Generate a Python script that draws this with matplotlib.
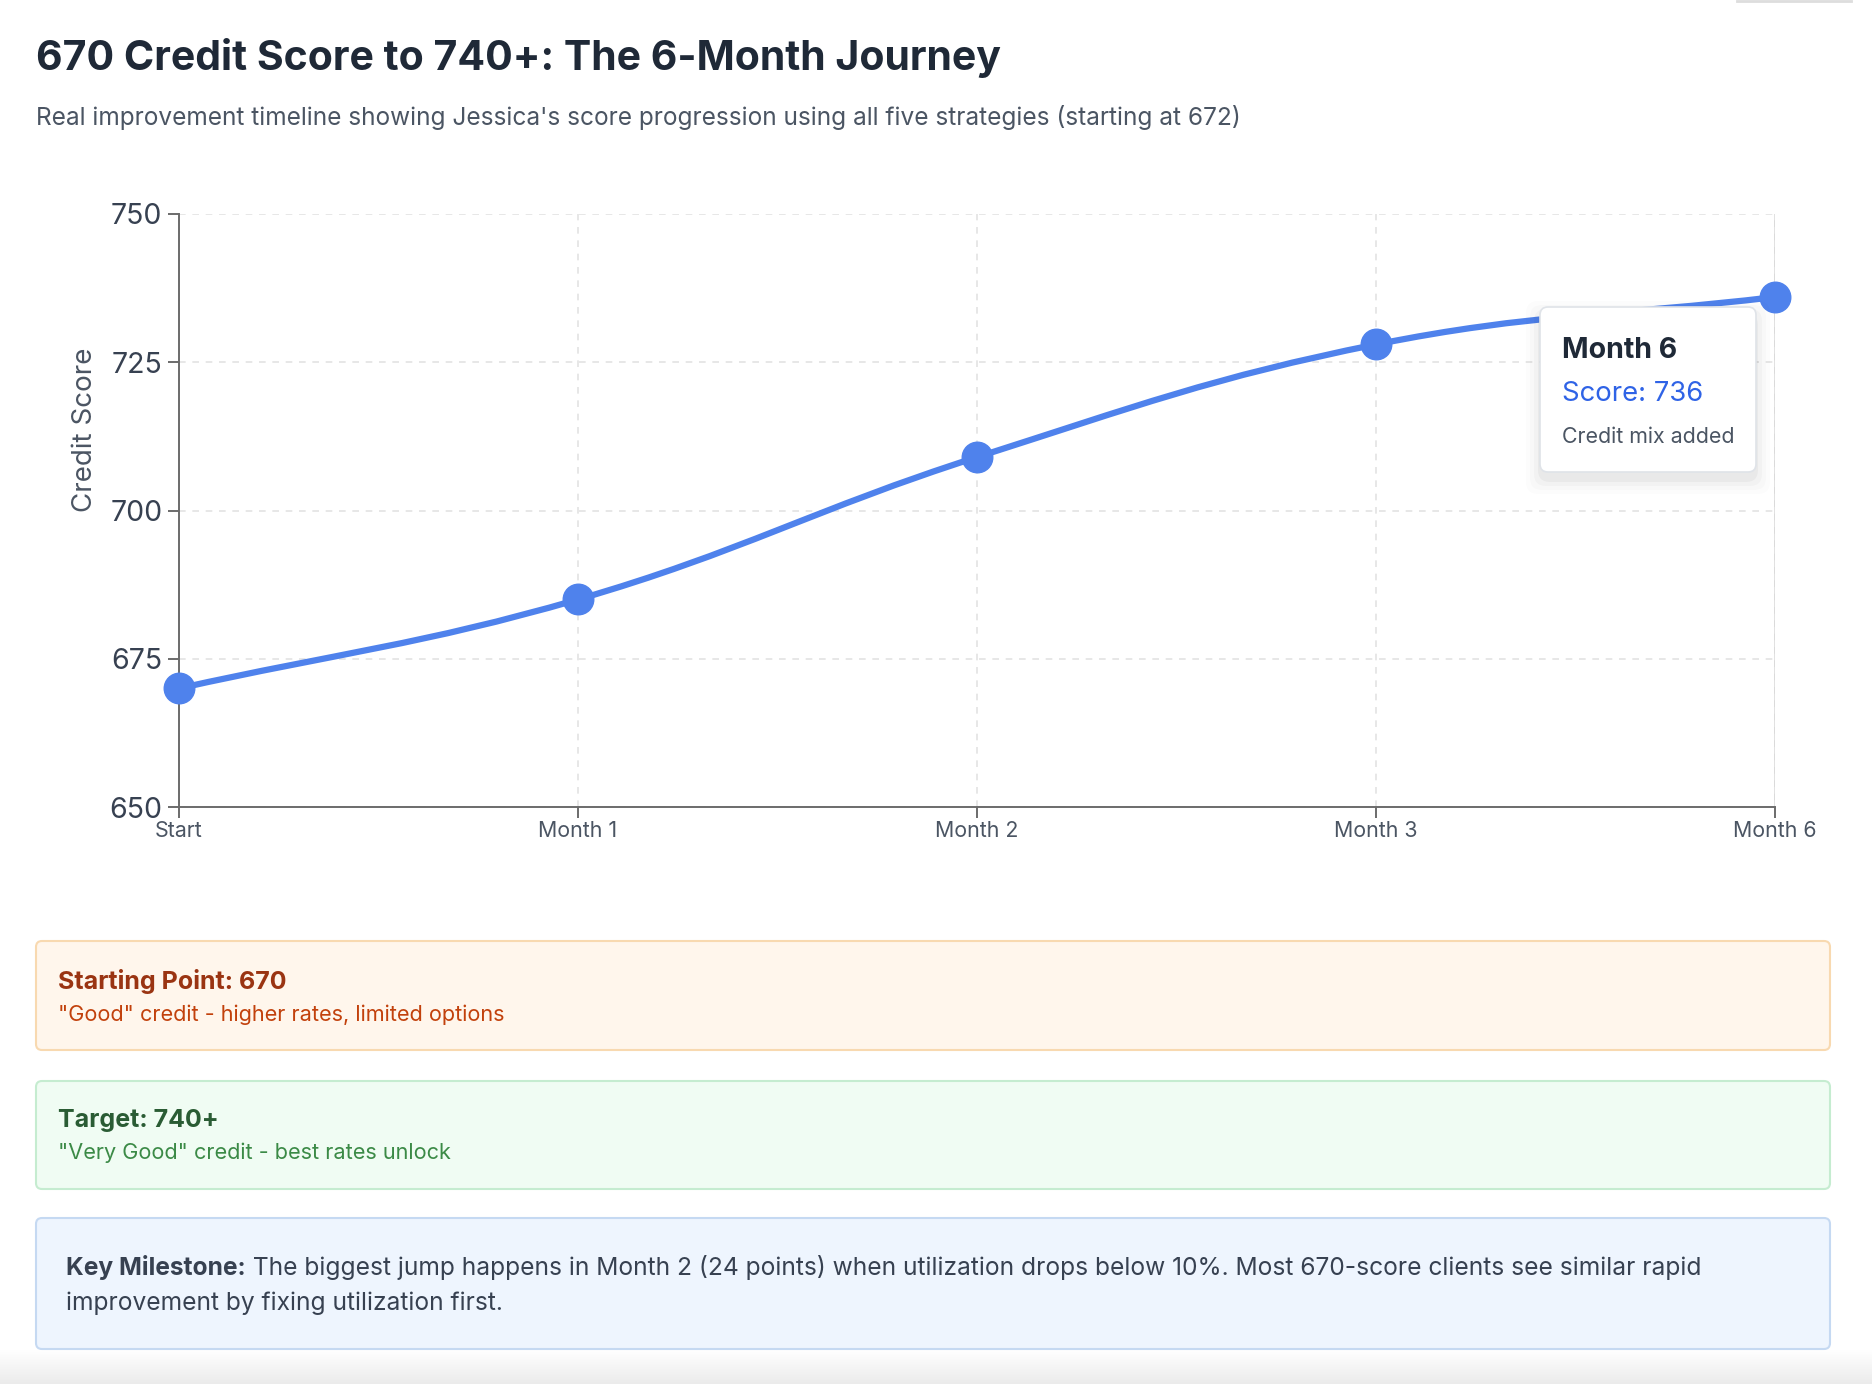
import numpy as np
import matplotlib.pyplot as plt
from matplotlib.path import Path
from matplotlib.patches import PathPatch, FancyBboxPatch
from matplotlib.colors import LinearSegmentedColormap

plt.rcParams['font.family'] = ['Inter', 'DejaVu Sans']

# data
months = ["Start", "Month 1", "Month 2", "Month 3", "Month 6"]
scores = [670, 685, 709, 728, 736]
notes = ["Baseline", "Utilization lowered", "Utilization below 10%", "Late payment removed", "Credit mix added"]
y_ticks = [650, 675, 700, 725, 750]
hover_idx = 4

W, H = 1872, 1384
fig = plt.figure(figsize=(W / 100, H / 100), dpi=100)

# background layer in pixel coordinates (y down)
bg = fig.add_axes([0, 0, 1, 1], zorder=0)
bg.set_xlim(0, W)
bg.set_ylim(H, 0)
bg.axis('off')

# light gray shade at the bottom of the page
grad = np.linspace(0, 1, 50).reshape(-1, 1)
bg.imshow(grad, extent=[0, W, H, 1350], cmap=LinearSegmentedColormap.from_list('g', ['#ffffff', '#ebebeb']),
          aspect='auto', zorder=0)
bg.plot([1737, 1851], [1, 1], color='#dddddd', lw=2)

bg.text(36, 58, "670 Credit Score to 740+: The 6-Month Journey", fontsize=29.5, fontweight='bold',
        color='#1f2937', va='center', ha='left')
bg.text(36, 117, "Real improvement timeline showing Jessica's score progression using all five strategies (starting at 672)",
        fontsize=17.6, color='#4b5563', va='center', ha='left')

# info boxes
boxes = [
    (941, 1050, '#fff6ec', '#f8d9b0'),
    (1081, 1189, '#f0fcf3', '#c5ecd0'),
    (1218, 1349, '#eef5fe', '#c5d9f2'),
]
for y0, y1, fc, ec in boxes:
    bg.add_patch(FancyBboxPatch((36, y0), 1794, y1 - y0, boxstyle='round,pad=0,rounding_size=6',
                                fc=fc, ec=ec, lw=1.5, zorder=1))

bg.text(58, 982, "Starting Point: 670", fontsize=18, fontweight='bold', color='#9a3412', va='center', zorder=2)
bg.text(58, 1015, '"Good" credit - higher rates, limited options', fontsize=15.6, color='#c2410c', va='center', zorder=2)
bg.text(58, 1121, "Target: 740+", fontsize=18, fontweight='bold', color='#2a5c34', va='center', zorder=2)
bg.text(58, 1153, '"Very Good" credit - best rates unlock', fontsize=15.6, color='#3b8a46', va='center', zorder=2)

kb = bg.text(66, 1268, "Key Milestone:", fontsize=17.7, fontweight='bold', color='#374151', va='center', zorder=2)
fig.canvas.draw()
bb = kb.get_window_extent().transformed(bg.transData.inverted())
bg.text(bb.x1, 1268, " The biggest jump happens in Month 2 (24 points) when utilization drops below 10%. Most 670-score clients see similar rapid",
        fontsize=17.7, color='#374151', va='center', zorder=2)
bg.text(66, 1303, "improvement by fixing utilization first.", fontsize=17.7, color='#374151', va='center', zorder=2)

# chart
ax = fig.add_axes([179 / W, 1 - 807 / H, (1775 - 179) / W, (807 - 214) / H], zorder=1)
ax.patch.set_alpha(0)
x = np.arange(len(months))
ax.set_xlim(0, len(months) - 1)
ax.set_ylim(650, 750)

# smooth line (bezier with tension like the web chart)
sx, sy = 1596 / (len(months) - 1), 593 / 100
px, py = x * sx, np.array(scores) * sy
t = 0.4
cp_in, cp_out = [], []
for i in range(len(px)):
    a = max(i - 1, 0)
    b = min(i + 1, len(px) - 1)
    d01 = np.hypot(px[i] - px[a], py[i] - py[a])
    d12 = np.hypot(px[b] - px[i], py[b] - py[i])
    tot = d01 + d12
    fa = t * d01 / tot
    fb = t * d12 / tot
    cp_in.append((px[i] - fa * (px[b] - px[a]), py[i] - fa * (py[b] - py[a])))
    cp_out.append((px[i] + fb * (px[b] - px[a]), py[i] + fb * (py[b] - py[a])))
verts = [(x[0], scores[0])]
codes = [Path.MOVETO]
for i in range(len(px) - 1):
    verts += [(cp_out[i][0] / sx, cp_out[i][1] / sy), (cp_in[i + 1][0] / sx, cp_in[i + 1][1] / sy),
              (x[i + 1], scores[i + 1])]
    codes += [Path.CURVE4] * 3
ax.add_patch(PathPatch(Path(verts, codes), fc='none', ec='#4f82ec', lw=4.5, capstyle='round', zorder=3))
ax.plot(x, scores, 'o', color='#4f82ec', ms=22, zorder=4, clip_on=False)

ax.set_xticks(x)
ax.set_xticklabels(months)
ax.set_yticks(y_ticks)
ax.grid(True, color='#e3e3e3', linestyle=(0, (4, 4)), lw=1.2)
ax.axvline(x[-1], color='#cfcfcf', lw=1.8, zorder=1)
for s in ['top', 'right']:
    ax.spines[s].set_visible(False)
for s in ['left', 'bottom']:
    ax.spines[s].set_color('#6b6b6b')
    ax.spines[s].set_linewidth(1.4)
ax.tick_params(axis='y', labelsize=20.5, labelcolor='#374151', color='#6b6b6b', length=8, width=1.4, pad=4)
ax.tick_params(axis='x', labelsize=15.4, labelcolor='#4b5563', color='#6b6b6b', length=8, width=1.4, pad=2)
ax.set_ylabel("Credit Score", fontsize=20, color='#4b5563', va='center')
ax.yaxis.set_label_coords(-0.059, 0.636)

# tooltip overlay
top = fig.add_axes([0, 0, 1, 1], zorder=2)
top.set_xlim(0, W)
top.set_ylim(H, 0)
top.axis('off')
top.patch.set_alpha(0)
for k, al in enumerate([0.035, 0.025, 0.015, 0.01]):
    o = 2 + k * 4
    top.add_patch(FancyBboxPatch((1540 - o, 307 - o + 8), 216 + 2 * o, 165 + 2 * o,
                                 boxstyle='round,pad=0,rounding_size=12', fc='black', ec='none', alpha=al))
top.add_patch(FancyBboxPatch((1540, 307), 216, 165, boxstyle='round,pad=0,rounding_size=8',
                             fc='white', ec='#dfe3e8', lw=1.2))
top.text(1562, 351, months[hover_idx], fontsize=20.5, fontweight='bold', color='#1f2937', va='center')
top.text(1562, 394, f"Score: {scores[hover_idx]}", fontsize=19.8, color='#2f63e6', va='center')
top.text(1562, 437, notes[hover_idx], fontsize=15.4, color='#4b5563', va='center')

fig.savefig('out.png', dpi=100)
